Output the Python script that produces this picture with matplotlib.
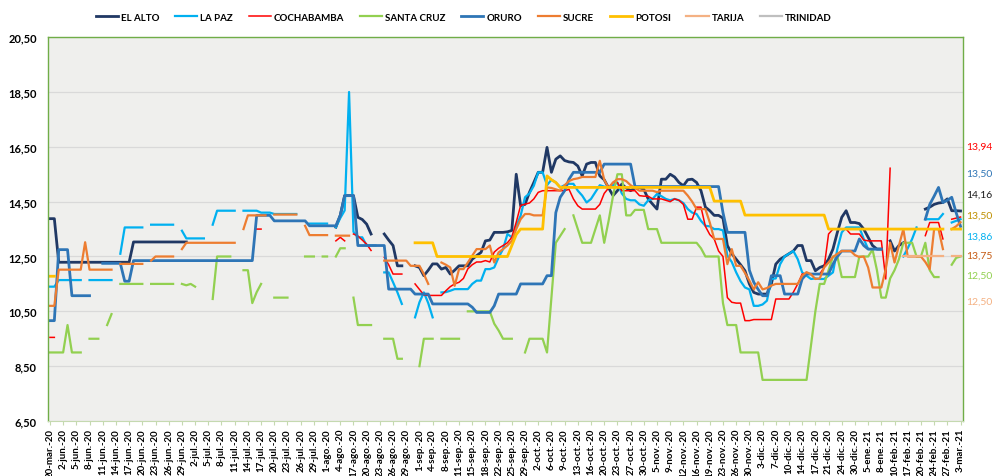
import numpy as np
import matplotlib
matplotlib.use("Agg")
import matplotlib.pyplot as plt

plt.rcParams["font.family"] = ["Lato", "DejaVu Sans"]

N = 208  # categorias (fechas con dato), etiqueta cada 3

fechas = [
    "20-mar.-20", "2-jun.-20", "5-jun.-20", "8-jun.-20", "11-jun.-20", "14-jun.-20",
    "17-jun.-20", "20-jun.-20", "23-jun.-20", "26-jun.-20", "29-jun.-20", "2-jul.-20",
    "5-jul.-20", "8-jul.-20", "11-jul.-20", "14-jul.-20", "17-jul.-20", "20-jul.-20",
    "23-jul.-20", "26-jul.-20", "29-jul.-20", "1-ago.-20", "4-ago.-20", "17-ago.-20",
    "20-ago.-20", "23-ago.-20", "26-ago.-20", "29-ago.-20", "1-sep.-20", "4-sep.-20",
    "8-sep.-20", "11-sep.-20", "15-sep.-20", "18-sep.-20", "22-sep.-20", "25-sep.-20",
    "29-sep.-20", "2-oct.-20", "6-oct.-20", "9-oct.-20", "13-oct.-20", "16-oct.-20",
    "20-oct.-20", "23-oct.-20", "27-oct.-20", "30-oct.-20", "5-nov.-20", "9-nov.-20",
    "12-nov.-20", "16-nov.-20", "19-nov.-20", "23-nov.-20", "26-nov.-20", "30-nov.-20",
    "3-dic.-20", "7-dic.-20", "10-dic.-20", "14-dic.-20", "17-dic.-20", "21-dic.-20",
    "24-dic.-20", "30-dic.-20", "5-ene.-21", "8-ene.-21", "10-feb.-21", "17-feb.-21",
    "20-feb.-21", "24-feb.-21", "27-feb.-21", "3-mar.-21",
]

# tramos: (indice inicial, valores); lo que no aparece es hueco
el_alto = [
    (0, [13.88, 13.88] + [12.29] * 17 + [13.03] * 13),
    (65, [13.57, 14.0, 14.72, 14.72, 14.72, 13.93, 13.85, 13.68, 13.32]),
    (76, [13.32, 13.1, 12.9, 12.16, 12.16]),
    (83, [12.16, 12.1, 11.8, 12.0, 12.23, 12.23, 12.04, 12.1, 11.86, 12.0,
          12.16, 12.16, 12.16, 12.4, 12.53, 12.65, 13.07, 13.1, 13.38, 13.38,
          13.38, 13.4, 13.45, 15.5, 14.35, 14.4, 14.84, 15.2, 15.57, 15.57]),
    (113, [16.48, 15.57, 16.05, 16.17, 16.0, 15.95, 15.93, 15.8, 15.44, 15.87,
           15.93, 15.93, 15.44, 15.3, 15.0, 14.72, 14.9, 15.14, 15.0, 14.9,
           15.0, 15.02, 14.95, 14.6, 14.41, 14.23, 15.32, 15.32, 15.5, 15.4,
           15.2, 15.08, 15.3, 15.32, 15.2, 14.9, 14.3, 14.17, 14.0, 14.0]),
    (153, [13.9, 12.9, 12.6, 12.4, 12.2, 11.98, 11.5, 11.19, 11.13, 11.13,
           11.13, 11.5, 12.22, 12.4, 12.5, 12.6, 12.7, 12.9, 12.9, 12.35,
           12.35, 11.98, 12.1, 12.16, 12.4, 12.77, 13.38, 13.93, 14.17, 13.74,
           13.74, 13.7, 13.5, 13.2, 12.9, 12.77, 12.77]),
    (191, [13.07, 12.7, 12.9, 13.0]),
    (199, [14.23, 14.3, 14.4, 14.45, 14.47, 14.6, 14.17, 14.17, 14.16]),
]

la_paz = [
    (0, [11.4, 11.4] + [11.64] * 6),
    (9, [11.64] * 6),
    (16, [12.6] + [13.56] * 5),
    (23, [13.66] * 6),
    (30, [13.44] + [13.16] * 5),
    (37, [13.66] + [14.17] * 5),
    (44, [14.17] * 4 + [14.1] * 3 + [14.05] * 6),
    (59, [13.7] * 5),
    (65, [13.57, 13.9, 14.18, 18.5, 13.4, 13.2, 13.2, 12.9, 12.9, 12.9]),
    (76, [11.92, 11.92, 11.56, 11.19, 10.77]),
    (83, [10.28, 10.83, 11.19, 10.8, 10.28]),
    (89, [11.19, 11.2, 11.25, 11.31, 11.31, 11.31, 11.31, 11.5, 11.62, 11.62,
          12.04, 12.04, 12.1, 12.47, 12.77, 13.32, 13.2, 13.6, 13.99, 14.66,
          14.8, 15.08, 15.57, 15.57]),
    (113, [15.1, 15.3, 15.2, 15.02, 15.1, 15.15, 15.15, 14.9, 14.72, 14.47,
           14.6, 14.85, 15.1, 15.05, 15.0, 15.1, 15.2, 14.8, 14.6, 14.55,
           14.55, 14.4, 14.35, 14.55, 14.6, 14.78, 14.7, 14.6, 14.55, 14.6,
           14.55, 14.45, 14.23, 14.1, 14.05, 13.8, 13.62, 13.6, 13.5, 13.5]),
    (153, [13.45, 12.53, 12.3, 11.92, 11.6, 11.37, 11.3, 10.7, 10.7, 10.75,
           10.89, 11.68, 11.7, 12.22, 12.5, 12.6, 12.7, 12.4, 11.92, 11.8,
           11.68, 11.7, 11.68, 11.68, 11.8, 11.92, 12.77, 13.38, 13.56, 13.56,
           13.56, 13.56, 13.14, 12.77, 12.77, 12.77, 12.77]),
    (194, [12.5, 12.8, 13.14, 13.56]),
    (199, [13.86, 13.86, 13.86, 13.86, 14.05]),
    (205, [13.74, 13.8, 13.86]),
]

cochabamba = [
    (0, [9.55, 9.55]),
    (47, [13.5, 13.5]),
    (65, [13.07, 13.2, 13.07]),
    (69, [13.32, 13.25, 13.1, 12.95, 12.72]),
    (76, [12.47, 12.2, 11.86, 11.86, 11.86]),
    (83, [11.5, 11.3, 11.1, 11.08, 11.08, 11.08, 11.08, 11.25, 11.4, 11.5,
          11.56, 11.7, 12.05, 12.2, 12.3, 12.3, 12.35, 12.3, 12.66, 12.8,
          12.9, 13.0, 13.2, 13.75, 14.36, 14.41, 14.45, 14.6, 14.84, 14.9]),
    (113, [14.9, 14.9, 14.9, 14.9, 14.9, 14.95, 14.6, 14.35, 14.23, 14.23,
           14.23, 14.23, 14.4, 14.8, 15.0, 15.2, 15.2, 14.9, 14.9, 14.9,
           14.9, 14.72, 14.7, 14.7, 14.6, 14.6, 14.6, 14.55, 14.5, 14.6,
           14.55, 14.4, 13.86, 13.86, 14.3, 14.3, 13.6, 13.3, 13.14, 12.7]),
    (153, [12.5, 11.0, 10.83, 10.8, 10.8, 10.16, 10.16, 10.2, 10.2, 10.2,
           10.2, 10.2, 10.95, 10.95, 10.95, 10.95, 11.2, 11.5, 11.86, 11.86,
           11.86, 11.86, 11.86, 12.1, 13.32, 13.5, 13.5, 13.5, 13.5, 13.32,
           13.32, 13.32, 13.1, 13.07, 13.07, 13.07, 13.07, 11.68, 15.72]),
    (199, [13.26, 13.74, 13.74, 13.74, 13.14]),
    (205, [13.86, 13.9, 13.94]),
]

santa_cruz = [
    (0, [9.0] * 4 + [10.0] + [9.0] * 3),
    (9, [9.5] * 3),
    (13, [10.0, 10.4]),
    (16, [11.5] * 6),
    (23, [11.5] * 6),
    (30, [11.5, 11.45, 11.5, 11.4]),
    (37, [10.95] + [12.5] * 4),
    (44, [12.0, 12.0, 10.8, 11.2, 11.5]),
    (51, [11.0] * 4),
    (58, [12.5] * 3),
    (62, [12.5] * 2),
    (65, [12.5, 12.8, 12.8]),
    (69, [11.0] + [10.0] * 4),
    (76, [9.5] * 3 + [8.77] * 2),
    (84, [8.5] + [9.5] * 3),
    (89, [9.5] * 5),
    (95, [10.5] * 6 + [10.05, 9.8] + [9.5] * 3),
    (108, [9.0] + [9.5] * 4 + [9.0, 11.0, 13.0, 13.25, 13.5]),
    (119, [14.0, 13.5, 13.0, 13.0, 13.0, 13.5, 14.0, 13.0, 13.8, 14.7,
           15.5, 15.5, 14.0, 14.0, 14.2, 14.2, 14.2, 13.5, 13.5, 13.5]
          + [13.0] * 9 + [12.8] + [12.5] * 4 + [10.8] + [10.0] * 3
          + [9.0] * 5 + [8.0] * 11),
    (173, [9.25, 10.5, 11.5, 11.5, 12.0, 12.5, 12.5] + [11.75] * 4 + [12.5] * 3
          + [12.75, 12.0, 11.0, 11.0, 11.7, 12.0, 12.4, 13.0, 13.0, 13.0,
             12.5, 12.5, 13.0, 12.0, 11.75, 11.75]),
    (205, [12.2, 12.45, 12.5]),
]

oruro = [
    (0, [10.16, 10.16, 12.75, 12.75, 12.75] + [11.07] * 5),
    (12, [12.25] * 5 + [11.6, 11.6] + [12.35] * 28),
    (47, [14.0] * 4 + [13.8] * 8 + [13.62] * 7 + [14.0, 14.72, 14.72, 14.72]
         + [12.9] * 7 + [11.31] * 6 + [11.13] * 4 + [10.77] * 9 + [10.65]
         + [10.46] * 4 + [10.7] + [11.13] * 5 + [11.5] * 6 + [11.8] * 2
         + [14.1, 14.66, 14.9, 15.32] + [15.57] * 7 + [15.87] * 7),
    (133, [15.05] * 20 + [14.1] + [13.38] * 5
          + [12.0, 11.56, 11.3, 11.07, 11.07, 11.8, 11.8, 11.8] + [11.13] * 4
          + [11.68] + [11.86] * 6
          + [12.22, 12.5, 12.7, 12.7, 12.7, 12.7, 13.14, 12.9, 12.77, 12.77, 12.77, 12.77]),
    (199, [13.86, 14.4, 14.7, 15.02, 14.47, 14.55, 14.66, 14.1, 13.6]),
]

sucre = [
    (0, [10.7, 10.7] + [12.02] * 6 + [13.02] + [12.02] * 6),
    (16, [12.23] * 6),
    (23, [12.35] + [12.5] * 5),
    (30, [12.77] + [13.0] * 12),
    (44, [13.5] + [14.0] * 5),
    (51, [14.03] * 6),
    (58, [13.62] + [13.28] * 5),
    (65, [13.26] * 4),
    (76, [12.35] * 6 + [12.16] * 3 + [11.86, 11.5]),
    (89, [12.28, 12.2, 12.1, 11.43, 12.04, 12.04, 12.28, 12.53, 12.77, 12.77,
          12.77, 12.9, 12.28, 12.65, 12.77, 12.9, 13.07, 13.5, 13.86, 14.05,
          14.05, 14.0, 14.0, 14.0]),
    (113, [15.02, 15.0, 14.95, 14.9, 15.1, 15.25, 15.32, 15.35, 15.4, 15.4,
           15.4, 15.4, 15.99, 15.3, 15.0, 15.2, 15.32, 15.32, 15.25, 15.1,
           15.0, 14.9, 14.9, 14.9, 14.9, 14.85, 14.9, 14.9, 14.9, 14.9,
           14.9, 14.9, 14.72, 14.5, 14.23, 14.23, 14.23, 13.74, 13.14, 13.14]),
    (153, [13.14, 12.22, 12.77, 12.16, 12.16, 11.9, 11.62, 11.3, 11.56, 11.3,
           11.35, 11.44, 11.5, 11.5, 11.5, 11.5, 11.5, 11.5, 11.8, 11.93,
           11.85, 11.68, 11.7, 12.1, 12.28, 12.48, 12.6, 12.7, 12.7, 12.7,
           12.55, 12.48, 12.5, 12.1, 11.37, 11.37, 11.37, 12.04, 13.0, 12.28,
           12.9, 13.5, 12.5, 12.5, 12.5, 12.5, 12.3, 12.04, 13.5, 13.5, 12.77]),
    (205, [13.5, 13.6, 13.75]),
]

potosi = [
    (0, [11.78, 11.78]),
    (83, [13.0] * 5 + [12.5] * 17 + [12.9, 13.3] + [13.5] * 6 + [15.44, 15.3, 15.2]
         + [15.02] * 35 + [14.52] * 7 + [14.01] * 19 + [13.5] * 27),
    (205, [13.5] * 3),
]

tarija = [
    (194, [12.5] * 10),
    (205, [12.5] * 3),
]

trinidad = []

series = [
    ("EL ALTO", el_alto, "#203864", 2.0),
    ("LA PAZ", la_paz, "#00B0F0", 1.6),
    ("COCHABAMBA", cochabamba, "#FF0000", 1.1),
    ("SANTA CRUZ", santa_cruz, "#92D050", 1.6),
    ("ORURO", oruro, "#2E75B6", 2.0),
    ("SUCRE", sucre, "#ED7D31", 1.6),
    ("POTOSI", potosi, "#FFC000", 2.0),
    ("TARIJA", tarija, "#F4B183", 1.6),
    ("TRINIDAD", trinidad, "#BFBFBF", 1.6),
]

# ultimos valores que aparecen a la derecha
ultimos = ["13,94", "13,50", "14,16", "13,50", "13,86", "13,75", "12,50", "12,50"]
ultimos_col = ["#FF0000", "#2E75B6", "#1a1a1a", "#BF9000", "#00B0F0", "#C55A11", "#92D050", "#F4B183"]


def expand(segs):
    y = np.full(N, np.nan)
    for start, vals in segs:
        vals = vals[: N - start]
        y[start:start + len(vals)] = vals
    return y


fig = plt.figure(figsize=(9.95, 4.77), dpi=100)
ax = fig.add_axes([0.0482, 0.1153, 0.9198, 0.8047])
ax.set_facecolor("#efefed")

x = np.arange(N)
for name, segs, col, lw in series:
    ax.plot(x, expand(segs), color=col, lw=lw, label=name, solid_joinstyle="round")

ax.set_ylim(6.5, 20.5)
ax.set_yticks(np.arange(6.5, 20.6, 2.0))
ax.set_yticklabels([f"{v:.2f}".replace(".", ",") for v in np.arange(6.5, 20.6, 2.0)],
                   fontsize=8, fontweight="bold")
ax.grid(axis="y", color="#d9d9d9", lw=0.9)
ax.set_axisbelow(True)

ax.set_xlim(-0.45, 207.6)
ax.set_xticks(np.arange(0, N, 3))
ax.set_xticklabels(fechas, rotation=90, fontsize=7, fontweight="bold")
ax.tick_params(axis="y", length=0, pad=8)
ax.tick_params(axis="x", length=3, color="#c5d9b0", pad=2)

for s in ["left", "top", "right"]:
    ax.spines[s].set_color("#70AD47")
    ax.spines[s].set_linewidth(1.0)
ax.spines["bottom"].set_color("#c5d9b0")

fig.legend(loc="upper center", bbox_to_anchor=(0.466, 0.99), ncol=9, frameon=False,
           prop={"size": 7, "weight": "bold"}, handlelength=2.3, columnspacing=1.6,
           handletextpad=0.3)

ys = [147, 174, 195, 216, 237, 256, 276, 302]
for txt, col, yp in zip(ultimos, ultimos_col, ys):
    fig.text(966 / 995, 1 - yp / 477, txt, color=col, fontsize=7.5, va="center", ha="left")

fig.savefig("out.png", dpi=100)
